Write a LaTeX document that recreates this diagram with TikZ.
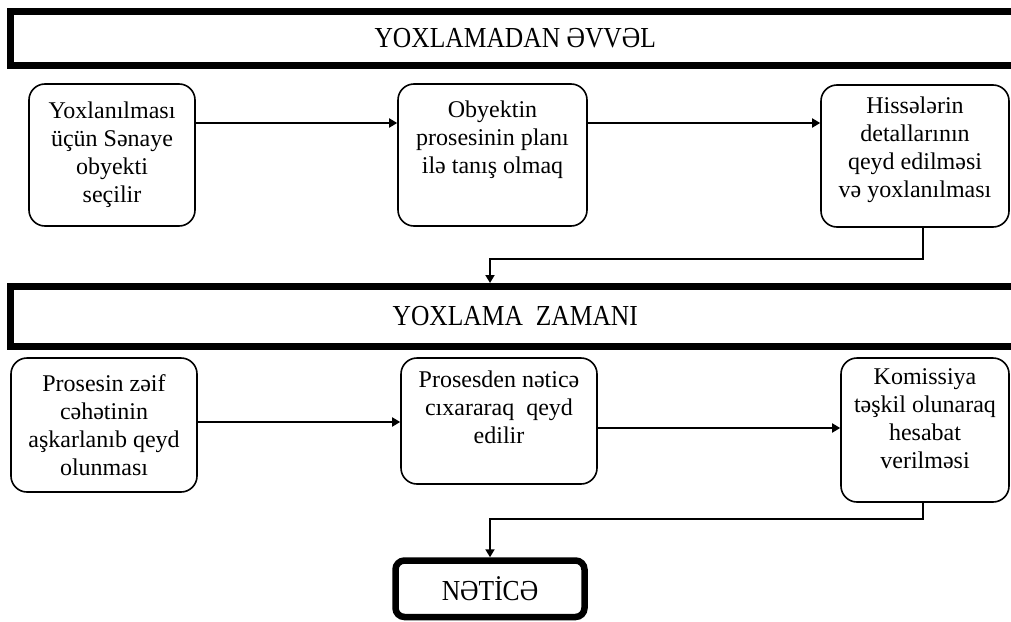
\documentclass[tikz,border=0pt]{standalone}
\usepackage{fontspec}
\setmainfont{Liberation Serif}
\newfontfamily\headfont{Liberation Serif}
\usepackage{graphicx}
\usetikzlibrary{arrows.meta}

\tikzset{
  stage/.style={draw, line width=1.6pt, rounded corners=16pt, align=center,
    inner sep=0pt, font=\rmfamily\fontsize{24}{28}\selectfont},
  banner/.style={draw, line width=7pt, inner sep=0pt,
    font=\headfont\fontsize{29}{30}\selectfont},
  result/.style={draw, line width=6.5pt, rounded corners=9pt, inner sep=0pt,
    font=\headfont\fontsize{29}{30}\selectfont},
  flow/.style={line width=1.8pt, -{Triangle[length=8pt,width=9pt]}},
}
% narrow capitals used in the headings
\newcommand\narrowcaps[1]{\scalebox{0.88}[1]{#1}}

\begin{document}
\begin{tikzpicture}[x=1pt,y=-1pt]
\clip (0,0) rectangle (1011,621);
\fill[white] (0,0) rectangle (1011,621);

% headings
\node[banner, minimum width=1009.5pt, minimum height=54pt] (before) at (515.25,38.5)
  {\narrowcaps{YOXLAMADAN ƏVVƏL}};
\node[banner, minimum width=1009.5pt, minimum height=60pt] (during) at (515.25,316.5)
  {\narrowcaps{YOXLAMA\ \ ZAMANI}};

% first row of steps
\node[stage, minimum width=166pt, minimum height=142pt] (b1) at (112,155)
  {Yoxlanılması\\üçün Sənaye\\obyekti\\seçilir};
\node[stage, minimum width=189pt, minimum height=142pt] (b2) at (492.5,155)
  {Obyektin\\prosesinin planı\\ilə tanış olmaq\\[8pt]\mbox{}};
\node[stage, minimum width=188pt, minimum height=142pt] (b3) at (915,156)
  {Hissələrin\\detallarının\\qeyd edilməsi\\və yoxlanılması\\[-10pt]\mbox{}};

% second row of steps
\node[stage, minimum width=186pt, minimum height=134pt] (b4) at (104,425)
  {Prosesin zəif\\cəhətinin\\aşkarlanıb qeyd\\olunması};
\node[stage, minimum width=196pt, minimum height=126pt] (b5) at (499,421)
  {Prosesden nəticə\\cıxararaq\ \ qeyd\\edilir\\\mbox{}};
\node[stage, minimum width=168pt, minimum height=144pt] (b6) at (925,430)
  {Komissiya\\təşkil olunaraq\\hesabat\\verilməsi\\[-6pt]\mbox{}};

% final result
\node[result, minimum width=189pt, minimum height=56.5pt] (res) at (490,588.75)
  {\narrowcaps{NƏTİCƏ}};

% connectors
\coordinate (r1) at (0,123);
\coordinate (r2) at (0,422);
\coordinate (r3) at (0,428);
\draw[flow] (b1.east |- r1) -- (b2.west |- r1);
\draw[flow] (b2.east |- r1) -- (b3.west |- r1);
\draw[flow] (b4.east |- r2) -- (b5.west |- r2);
\draw[flow] (b5.east |- r3) -- (b6.west |- r3);

\coordinate (d1) at (923,259);
\coordinate (d2) at (490,259);
\draw[flow] (b3.south -| d1) -- (d1) -- (d2) -- (during.north -| d2);

\coordinate (d3) at (923,519);
\coordinate (d4) at (490,519);
\draw[flow] (b6.south -| d3) -- (d3) -- (d4) -- (res.north -| d4);
\end{tikzpicture}
\end{document}
